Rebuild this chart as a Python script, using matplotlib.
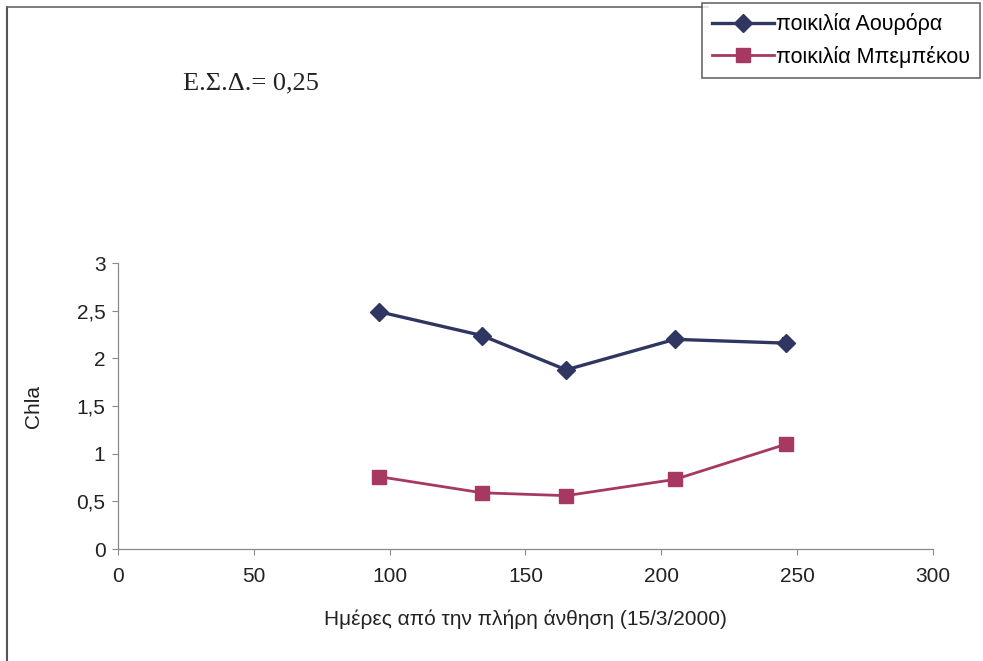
import matplotlib.pyplot as plt
from matplotlib.ticker import FuncFormatter
from matplotlib.lines import Line2D

# Days after full bloom and chlorophyll a for the two varieties
days = [96, 134, 165, 205, 246]
aurora = [2.49, 2.24, 1.88, 2.20, 2.16]
aurora_err = [0.03, 0.03, 0.03, 0.05, 0.05]
mpempekou = [0.76, 0.59, 0.56, 0.73, 1.10]
mpempekou_err = [0.03, 0.05, 0.03, 0.03, 0.03]
names = ['ποικιλία Αουρόρα', 'ποικιλία Μπεμπέκου']

sans = ['Liberation Sans', 'DejaVu Sans']
plt.rcParams['font.family'] = sans

fig = plt.figure(figsize=(9.83, 6.61), dpi=100)
ax = fig.add_axes([0.12, 0.1694, 0.829, 0.4326])

navy = '#303662'
rose = '#a63862'

ax.errorbar(days, aurora, yerr=aurora_err, color=navy, lw=2.4, marker='D',
            ms=9, capsize=3, elinewidth=1.2, capthick=1.5)
ax.errorbar(days, mpempekou, yerr=mpempekou_err, color=rose, lw=2.0, marker='s',
            ms=10, capsize=4, elinewidth=1.2, capthick=1.5)

ax.set_xlim(0, 300)
ax.set_ylim(0, 3)
ax.set_xticks(range(0, 301, 50))
ax.set_yticks([0, 0.5, 1, 1.5, 2, 2.5, 3])
ax.yaxis.set_major_formatter(FuncFormatter(lambda v, p: f'{v:g}'.replace('.', ',')))

for side in ['top', 'right']:
    ax.spines[side].set_visible(False)
for side in ['left', 'bottom']:
    ax.spines[side].set_color('#8a8a8a')
    ax.spines[side].set_linewidth(0.9)
ax.tick_params(direction='out', length=4, color='#8a8a8a', labelsize=15,
               labelcolor='#222222')
ax.tick_params(axis='x', pad=9)
ax.tick_params(axis='y', pad=5)

ax.set_xlabel('Ημέρες από την πλήρη άνθηση (15/3/2000)', fontsize=15,
              color='#222222', labelpad=17)
ax.set_ylabel('Chla', fontsize=15, color='#222222', labelpad=24)

fig.text(0.186, 0.874, 'Ε.Σ.Δ.= 0,25', fontsize=19,
         family=['Liberation Serif', 'DejaVu Serif'], color='#222222', va='center')

handles = [Line2D([], [], color=navy, lw=2.4, marker='D', ms=9),
           Line2D([], [], color=rose, lw=2.0, marker='s', ms=10)]
leg = fig.legend(handles, names, loc='upper right', bbox_to_anchor=(0.999, 0.998),
                 fontsize=15.5, frameon=True, fancybox=False, handlelength=2.9,
                 borderpad=0.45, labelspacing=0.5, handletextpad=0.1,
                 borderaxespad=0.1)
leg.get_frame().set_edgecolor('#444444')
leg.get_frame().set_linewidth(1.2)

# page frame on the left and top edges
fig.add_artist(Line2D([0.007, 0.007], [0.0, 0.99], transform=fig.transFigure,
                      color='#555555', lw=1.5))
fig.add_artist(Line2D([0.007, 0.72], [0.99, 0.99], transform=fig.transFigure,
                      color='#666666', lw=1.2))

fig.savefig('out.png', dpi=100)
